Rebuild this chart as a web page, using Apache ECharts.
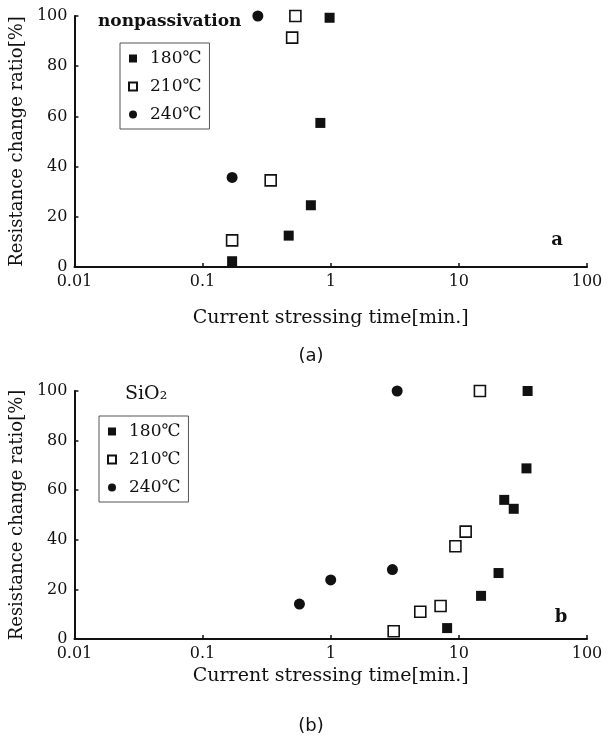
<!DOCTYPE html>
<html lang="en">
<head>
    <meta charset="UTF-8">
    <title>Resistance change ratio</title>
    <script src="https://cdn.jsdelivr.net/npm/echarts@6/dist/echarts.min.js"></script>
    <style>
        html, body { margin: 0; padding: 0; background: #fff; }
        #main { width: 609px; height: 738px; }
    </style>
</head>
<body>
<div id="main"></div>

<script type="text/javascript">
    // tick labels
    var xTickLabels = ['0.01', '0.1', '1', '10', '100'];
    var seriesNames = ['180℃', '210℃', '240℃'];

    // (a) nonpassivation : time [min.] / resistance change ratio [%]
    var t180a = [0.17, 0.47, 0.70, 0.83, 0.98];
    var r180a = [2.3, 12.5, 24.6, 57.4, 99.3];
    var t210a = [0.17, 0.34, 0.50, 0.53];
    var r210a = [10.6, 34.5, 91.4, 100];
    var t240a = [0.17, 0.27];
    var r240a = [35.7, 100];

    // (b) SiO2
    var t180b = [8.1, 14.9, 20.4, 22.6, 26.8, 33.7, 34.4];
    var r180b = [4.4, 17.4, 26.6, 56.1, 52.5, 68.8, 100];
    var t210b = [3.1, 5.0, 7.2, 9.4, 11.3, 14.6];
    var r210b = [3.1, 11.0, 13.3, 37.4, 43.3, 100];
    var t240b = [0.57, 1.0, 3.03, 3.3];
    var r240b = [14.1, 23.8, 28.0, 100];

    function pairs(xs, ys) {
        var out = [];
        for (var i = 0; i < xs.length; i++) {
            out.push([xs[i], ys[i]]);
        }
        return out;
    }

    var serif = 'DejaVu Serif';
    var ink = '#111';

    function xAxisOf(gridIndex, gap) {
        return {
            type: 'log',
            logBase: 10,
            gridIndex: gridIndex,
            min: 0.01,
            max: 100,
            name: 'Current stressing time[min.]',
            nameLocation: 'middle',
            nameGap: gap,
            nameTextStyle: { fontFamily: serif, fontSize: 19, color: ink },
            axisLine: { lineStyle: { color: ink, width: 2 } },
            axisTick: { inside: true, length: 4, lineStyle: { color: ink, width: 1.5 } },
            minorTick: { show: false },
            splitLine: { show: false },
            axisLabel: {
                fontFamily: serif, fontSize: 16, color: ink, margin: 7,
                formatter: function (v) {
                    return xTickLabels[Math.round(Math.log10(v)) + 2];
                }
            }
        };
    }

    function yAxisOf(gridIndex) {
        return {
            type: 'value',
            gridIndex: gridIndex,
            min: 0,
            max: 100,
            interval: 20,
            name: 'Resistance change ratio[%]',
            nameLocation: 'middle',
            nameRotate: 90,
            nameGap: 45,
            nameTextStyle: { fontFamily: serif, fontSize: 18, color: ink },
            axisLine: { show: true, lineStyle: { color: ink, width: 2 } },
            axisTick: { show: true, inside: true, length: 4, lineStyle: { color: ink, width: 1.5 } },
            splitLine: { show: false },
            axisLabel: { fontFamily: serif, fontSize: 16, color: ink, margin: 7 }
        };
    }

    var styles = [
        { symbol: 'rect', symbolSize: 10, itemStyle: { color: ink, opacity: 1 } },
        { symbol: 'rect', symbolSize: 11, itemStyle: { color: '#fff', borderColor: ink, borderWidth: 1.6, opacity: 1 } },
        { symbol: 'circle', symbolSize: 11, itemStyle: { color: ink, opacity: 1 } }
    ];

    function scatter(i, grid, data) {
        return {
            name: seriesNames[i],
            type: 'scatter',
            xAxisIndex: grid,
            yAxisIndex: grid,
            symbol: styles[i].symbol,
            symbolSize: styles[i].symbolSize,
            itemStyle: styles[i].itemStyle,
            emphasis: { disabled: true },
            data: data
        };
    }

    function legendOf(left, top) {
        return {
            orient: 'vertical',
            left: left,
            top: top,
            data: seriesNames,
            itemWidth: 8,
            itemHeight: 8,
            itemGap: 11,
            padding: [7, 8, 6, 8],
            borderColor: '#555',
            borderWidth: 1,
            selectedMode: false,
            textStyle: { fontFamily: serif, fontSize: 17, color: ink, padding: [0, 0, 0, 8] }
        };
    }

    var myChart = echarts.init(document.getElementById('main'));
    var option = {
        backgroundColor: '#fff',
        animation: false,
        grid: [
            { left: 74, top: 16, width: 513, height: 251 },
            { left: 74, top: 391, width: 513, height: 248 }
        ],
        xAxis: [xAxisOf(0, 42), xAxisOf(1, 28)],
        yAxis: [yAxisOf(0), yAxisOf(1)],
        legend: [legendOf(120, 43), legendOf(99, 416)],
        graphic: [
            { type: 'text', left: 98, top: 13, style: { text: 'nonpassivation', fontFamily: serif, fontWeight: 'bold', fontSize: 17, fill: ink } },
            { type: 'text', left: 125, top: 385, style: { text: 'SiO₂', fontFamily: serif, fontSize: 19, fill: ink } },
            { type: 'text', x: 557, y: 240, style: { text: 'a', fontFamily: serif, fontWeight: 'bold', fontSize: 18, fill: ink, align: 'center', verticalAlign: 'middle' } },
            { type: 'text', x: 561, y: 617, style: { text: 'b', fontFamily: serif, fontWeight: 'bold', fontSize: 18, fill: ink, align: 'center', verticalAlign: 'middle' } },
            { type: 'text', x: 311, y: 356, style: { text: '(a)', fontFamily: 'DejaVu Sans', fontSize: 18, fill: ink, align: 'center', verticalAlign: 'middle' } },
            { type: 'text', x: 311, y: 726, style: { text: '(b)', fontFamily: 'DejaVu Sans', fontSize: 18, fill: ink, align: 'center', verticalAlign: 'middle' } }
        ],
        series: [
            scatter(0, 0, pairs(t180a, r180a)),
            scatter(1, 0, pairs(t210a, r210a)),
            scatter(2, 0, pairs(t240a, r240a)),
            scatter(0, 1, pairs(t180b, r180b)),
            scatter(1, 1, pairs(t210b, r210b)),
            scatter(2, 1, pairs(t240b, r240b))
        ]
    };
    myChart.setOption(option);
</script>
</body>
</html>
